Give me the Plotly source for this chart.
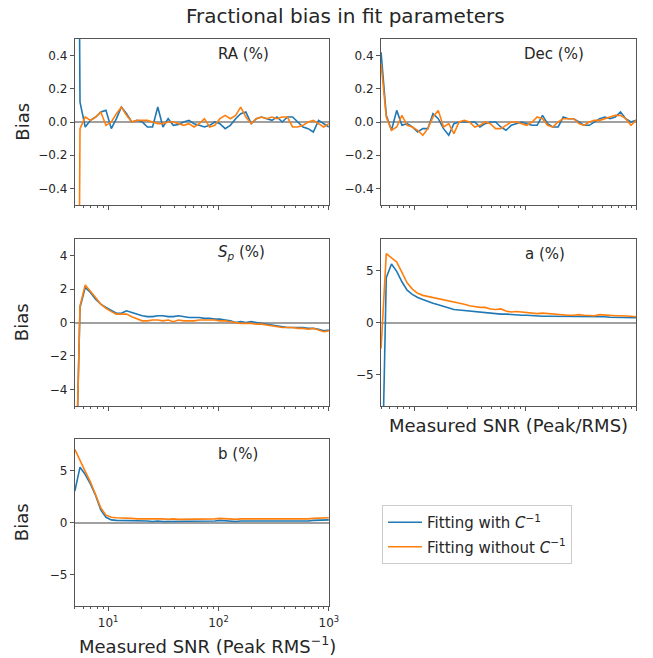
import plotly.graph_objects as go

snr = [5.00, 5.57, 6.21, 6.92, 7.71, 8.59, 9.57, 10.7, 11.9, 13.2,
       14.7, 16.4, 18.3, 20.4, 22.7, 25.3, 28.2, 31.4, 35.0, 39.0,
       43.5, 48.4, 54.0, 60.1, 67.0, 74.7, 83.2, 92.7, 103, 115,
       128, 143, 159, 177, 198, 220, 245, 273, 305, 339,
       378, 421, 469, 523, 583, 649, 723, 806, 898, 1000]

ra_with = [5.0, 0.12, -0.03, 0.01, 0.03, 0.06, 0.07, -0.04, 0.02, 0.09,
           0.05, 0.0, 0.01, 0.0, -0.03, -0.03, 0.09, -0.03, 0.02, -0.02,
           -0.015, 0.0, 0.01, -0.01, -0.02, -0.03, -0.02, 0.0, -0.01, -0.04,
           -0.02, 0.02, 0.05, 0.06, -0.01, 0.02, 0.03, 0.02, 0.01, 0.03,
           0.0, 0.03, 0.03, 0.0, -0.03, -0.04, -0.06, 0.01, -0.01, -0.03]
ra_without = [-5.0, -0.04, 0.03, 0.01, 0.03, 0.06, -0.02, 0.0, 0.05, 0.09,
              0.04, 0.0, 0.01, 0.01, 0.01, 0.0, -0.01, -0.01, 0.0, 0.0,
              -0.01, -0.02, -0.01, -0.03, -0.01, 0.02, -0.03, -0.02, 0.02, 0.04,
              0.02, 0.04, 0.09, 0.03, -0.01, 0.02, 0.03, 0.02, 0.03, 0.02,
              0.03, 0.03, -0.03, -0.03, -0.02, 0.0, 0.01, -0.01, -0.03, -0.01]

dec_with = [0.42, 0.04, -0.05, 0.07, -0.02, -0.01, -0.03, -0.06, -0.04, -0.04,
            0.05, 0.02, -0.04, -0.08, -0.01, 0.0, 0.0, 0.0, 0.0, -0.03,
            -0.01, 0.0, 0.0, -0.03, -0.05, -0.02, -0.01, 0.0, -0.01, -0.02,
            -0.02, 0.04, -0.01, -0.03, -0.03, 0.03, 0.02, 0.02, 0.0, -0.02,
            -0.02, 0.0, 0.02, 0.03, 0.02, 0.03, 0.06, 0.02, 0.0, 0.01]
dec_without = [0.35, 0.03, -0.05, -0.03, 0.04, -0.02, -0.03, -0.05, -0.08, -0.04,
               0.03, 0.07, -0.03, -0.01, -0.07, 0.0, 0.01, 0.0, -0.03, -0.02,
               0.0, -0.01, -0.04, -0.04, -0.02, 0.0, 0.0, -0.01, -0.02, 0.0,
               0.03, 0.02, -0.02, -0.03, 0.0, 0.02, 0.02, 0.02, -0.01, -0.02,
               0.0, 0.01, 0.01, 0.02, 0.03, 0.04, 0.04, 0.02, -0.02, 0.01]

sp_with = [-12.0, 0.9, 2.1, 1.8, 1.4, 1.1, 0.9, 0.7, 0.55, 0.55,
           0.7, 0.6, 0.5, 0.4, 0.35, 0.35, 0.4, 0.4, 0.35, 0.35,
           0.4, 0.35, 0.3, 0.3, 0.3, 0.25, 0.25, 0.2, 0.2, 0.15,
           0.1, 0.0, 0.05, 0.0, 0.05, 0.0, -0.05, -0.1, -0.15, -0.2,
           -0.25, -0.3, -0.3, -0.3, -0.3, -0.35, -0.35, -0.4, -0.5, -0.45]
sp_without = [-12.0, 1.0, 2.25, 1.9, 1.5, 1.1, 0.85, 0.65, 0.5, 0.5,
              0.5, 0.35, 0.2, 0.1, 0.1, 0.15, 0.15, 0.1, 0.15, 0.05,
              0.15, 0.1, 0.1, 0.1, 0.15, 0.15, 0.15, 0.15, 0.1, 0.1,
              0.05, 0.0, -0.05, -0.05, -0.05, -0.1, -0.1, -0.15, -0.2, -0.25,
              -0.3, -0.3, -0.3, -0.35, -0.35, -0.4, -0.35, -0.45, -0.55, -0.5]

a_with = [-20.0, 4.3, 5.6, 4.9, 3.9, 3.1, 2.7, 2.4, 2.2, 2.0,
          1.85, 1.7, 1.55, 1.4, 1.25, 1.2, 1.15, 1.05, 1.05, 1.0,
          0.95, 0.85, 0.8, 0.8, 0.8, 0.75, 0.75, 0.7, 0.7, 0.65,
          0.65, 0.6, 0.6, 0.6, 0.55, 0.55, 0.55, 0.6, 0.55, 0.55,
          0.55, 0.6, 0.55, 0.55, 0.5, 0.5, 0.5, 0.5, 0.45, 0.45]
a_without = [-2.5, 6.6, 6.2, 5.8, 4.8, 3.8, 3.2, 2.8, 2.6, 2.5,
             2.4, 2.3, 2.2, 2.05, 1.95, 1.85, 1.75, 1.6, 1.5, 1.45,
             1.45, 1.3, 1.25, 1.3, 1.1, 1.0, 1.05, 1.0, 1.0, 0.95,
             0.85, 0.9, 0.85, 0.8, 0.75, 0.7, 0.7, 0.7, 0.75, 0.7,
             0.7, 0.65, 0.75, 0.7, 0.7, 0.65, 0.65, 0.65, 0.6, 0.55]

b_with = [3.0, 5.3, 4.6, 3.7, 2.6, 1.2, 0.5, 0.25, 0.2, 0.2,
          0.2, 0.15, 0.15, 0.15, 0.15, 0.1, 0.15, 0.1, 0.1, 0.1,
          0.15, 0.1, 0.1, 0.15, 0.1, 0.15, 0.15, 0.15, 0.2, 0.15,
          0.15, 0.1, 0.15, 0.15, 0.1, 0.1, 0.1, 0.15, 0.15, 0.15,
          0.1, 0.15, 0.15, 0.15, 0.15, 0.15, 0.2, 0.2, 0.25, 0.25]
b_without = [7.0, 5.9, 4.9, 3.9, 2.7, 1.4, 0.7, 0.5, 0.45, 0.45,
             0.4, 0.4, 0.35, 0.35, 0.35, 0.4, 0.35, 0.35, 0.3, 0.35,
             0.3, 0.3, 0.3, 0.35, 0.35, 0.3, 0.35, 0.35, 0.4, 0.35,
             0.35, 0.3, 0.35, 0.35, 0.3, 0.3, 0.3, 0.35, 0.35, 0.3,
             0.35, 0.35, 0.3, 0.35, 0.35, 0.35, 0.4, 0.4, 0.45, 0.45]

panel_labels = ["RA (%)", "Dec (%)", "<i>S<sub>p</sub></i> (%)", "a (%)", "b (%)"]
series_names = ["Fitting with <i>C</i><sup>−1</sup>", "Fitting without <i>C</i><sup>−1</sup>"]
major_ticks = [10, 100, 1000]
major_text = ["10<sup>1</sup>", "10<sup>2</sup>", "10<sup>3</sup>"]
minor_ticks = [5, 6, 7, 8, 9, 20, 30, 40, 50, 60, 70, 80, 90, 200, 300, 400, 500, 600, 700, 800, 900]

BLUE = "#1f77b4"
ORANGE = "#ff7f0e"
FONT = "DejaVu Sans"
TXT = "#262626"
W, H = 653, 658

# pixel boxes of panels
cols = [(76, 334), (387, 646)]
rows = [(39, 205), (239, 406), (439, 606)]

panels = [
    dict(w=ra_with, wo=ra_without, col=0, row=0, yr=[-0.5, 0.5], yt=[-0.4, -0.2, 0.0, 0.2, 0.4], fmt=".1f"),
    dict(w=dec_with, wo=dec_without, col=1, row=0, yr=[-0.5, 0.5], yt=[-0.4, -0.2, 0.0, 0.2, 0.4], fmt=".1f"),
    dict(w=sp_with, wo=sp_without, col=0, row=1, yr=[-5, 5], yt=[-4, -2, 0, 2, 4], fmt="d"),
    dict(w=a_with, wo=a_without, col=1, row=1, yr=[-8, 8], yt=[-5, 0, 5], fmt="d"),
    dict(w=b_with, wo=b_without, col=0, row=2, yr=[-8, 8], yt=[-5, 0, 5], fmt="d"),
]
label_pos = [(247, 54), (563, 54), (245, 253), (553, 254), (242, 454)]

fig = go.Figure()
layout = dict(
    width=W, height=H,
    margin=dict(l=0, r=0, t=0, b=0),
    paper_bgcolor="white", plot_bgcolor="white",
    font=dict(family=FONT, color=TXT),
    showlegend=True,
    legend=dict(x=388 / W, y=1 - 505 / H, xanchor="left", yanchor="top",
                bordercolor="#cccccc", borderwidth=1, bgcolor="white",
                font=dict(family=FONT, size=15, color=TXT),
                tracegroupgap=2, itemwidth=34),
)
annotations = []
for i, p in enumerate(panels):
    n = i + 1
    xa = "x" if n == 1 else f"x{n}"
    ya = "y" if n == 1 else f"y{n}"
    cx0, cx1 = cols[p["col"]]
    ry0, ry1 = rows[p["row"]]
    fig.add_trace(go.Scatter(x=snr, y=p["w"], mode="lines", line=dict(color=BLUE, width=1.6),
                             name=series_names[0], showlegend=(i == 0), xaxis=xa, yaxis=ya,
                             legendgroup="w"))
    fig.add_trace(go.Scatter(x=snr, y=p["wo"], mode="lines", line=dict(color=ORANGE, width=1.6),
                             name=series_names[1], showlegend=(i == 0), xaxis=xa, yaxis=ya,
                             legendgroup="wo"))
    bottom = (i == 4)
    layout["xaxis" if n == 1 else f"xaxis{n}"] = dict(
        type="log", range=[0.69897, 3.0], domain=[cx0 / W, cx1 / W], anchor=ya,
        showline=True, linecolor="#555", linewidth=1, mirror=True,
        ticks="outside", ticklen=4, tickcolor="#555",
        tickvals=major_ticks, ticktext=major_text, showticklabels=bottom,
        ticklabelstandoff=2,
        tickfont=dict(family=FONT, size=12, color=TXT),
        minor=dict(tickvals=minor_ticks, ticks="outside", ticklen=2, tickcolor="#555", showgrid=False),
        showgrid=False, zeroline=False,
    )
    layout["yaxis" if n == 1 else f"yaxis{n}"] = dict(
        range=p["yr"], domain=[1 - ry1 / H, 1 - ry0 / H], anchor=xa,
        showline=True, linecolor="#555", linewidth=1, mirror=True,
        ticks="outside", ticklen=4, tickcolor="#555",
        tickvals=p["yt"], tickformat=p["fmt"],
        tickfont=dict(family=FONT, size=12, color=TXT),
        showgrid=False, zeroline=True, zerolinecolor="#a0a0a0", zerolinewidth=1.5,
    )
    lx, ly = label_pos[i]
    annotations.append(dict(text=panel_labels[i], x=lx / W, y=1 - ly / H, xref="paper", yref="paper",
                            xanchor="center", yanchor="middle",
                            showarrow=False, font=dict(family=FONT, size=15, color=TXT)))

for r in [0, 1, 2]:
    ry0, ry1 = rows[r]
    annotations.append(dict(text="Bias", x=22 / W, y=1 - (ry0 + ry1) / 2 / H, xref="paper", yref="paper",
                            xanchor="center", yanchor="middle",
                            showarrow=False, textangle=-90, font=dict(family=FONT, size=18, color=TXT)))

annotations.append(dict(text="Measured SNR (Peak/RMS)", x=516 / W, y=1 - 426 / H, xref="paper", yref="paper",
                        xanchor="center", yanchor="middle",
                        showarrow=False, font=dict(family=FONT, size=18, color=TXT)))
annotations.append(dict(text="Measured SNR (Peak RMS<sup>−1</sup>)", x=211 / W, y=1 - 645 / H, xref="paper", yref="paper",
                        xanchor="center", yanchor="middle",
                        showarrow=False, font=dict(family=FONT, size=18, color=TXT)))
annotations.append(dict(text="Fractional bias in fit parameters", x=351 / W, y=1 - 16 / H, xref="paper", yref="paper",
                        xanchor="center", yanchor="middle",
                        showarrow=False, font=dict(family=FONT, size=20, color=TXT)))

layout["annotations"] = annotations
fig.update_layout(**layout)
fig.write_html("out.html")
